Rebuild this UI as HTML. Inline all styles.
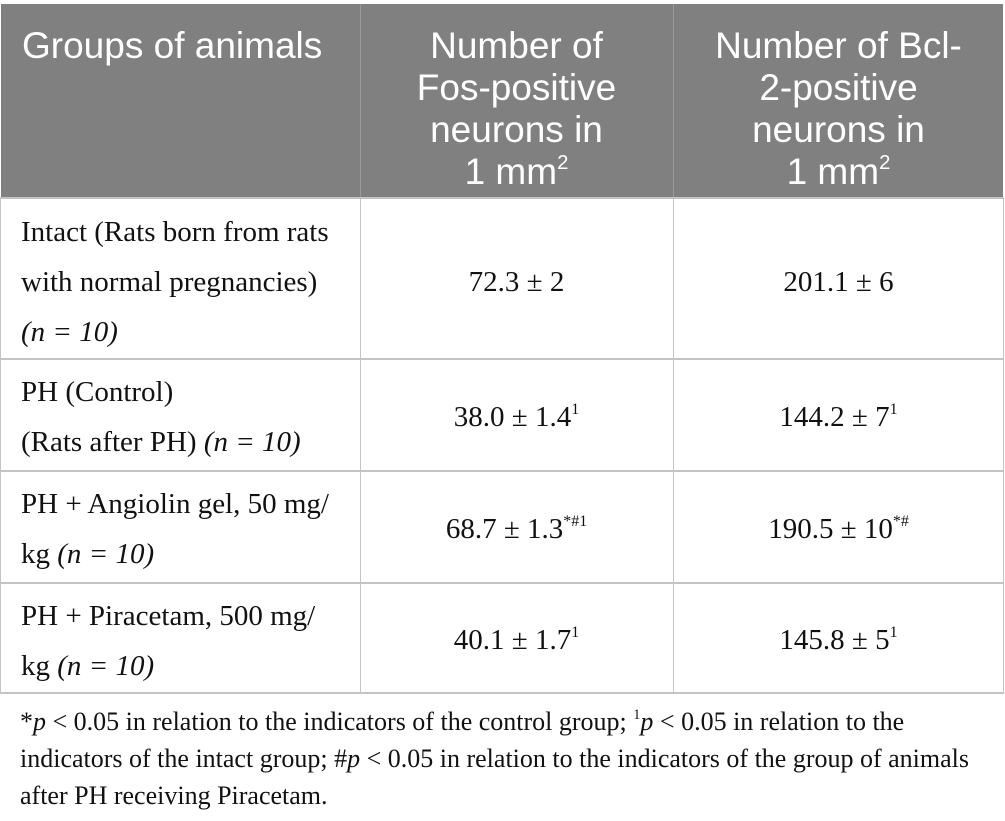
<!DOCTYPE html>
<html><head><meta charset="utf-8"><style>
body{margin:0;width:1005px;height:821px;background:#fff;position:relative;overflow:hidden}
.hd{position:absolute;top:4px;left:1px;width:1002px;height:194px;background:#808080}
.hc{position:absolute;color:#fff;font-family:"Liberation Sans",sans-serif;font-size:37px;line-height:42px;text-align:center;top:25px;white-space:nowrap}
.vl{position:absolute;width:1px;background:#c4c4c4}
.hl{position:absolute;height:2px;background:#c4c4c4;left:0;width:1004px}
.c{position:absolute;font-family:"Liberation Serif",serif;font-size:29px;line-height:50px;color:#111;white-space:nowrap}
.v{text-align:center}
sup{font-size:55%;vertical-align:baseline;line-height:0;position:relative;top:-0.75em}
.fn{position:absolute;left:20px;top:703px;font-family:"Liberation Serif",serif;font-size:26px;line-height:37px;color:#111;white-space:nowrap}
</style></head><body>
<div class="hd"></div>
<div class="vl" style="left:360px;top:4px;height:690px;background:#999"></div>
<div class="vl" style="left:673px;top:4px;height:690px;background:#999"></div>
<div class="vl" style="left:0;top:198px;height:496px"></div>
<div class="vl" style="left:1003px;top:198px;height:496px"></div>
<div class="vl" style="left:360px;top:198px;height:496px"></div>
<div class="vl" style="left:673px;top:198px;height:496px"></div>
<div class="hl" style="top:197px"></div>
<div class="hl" style="top:358px"></div>
<div class="hl" style="top:470px"></div>
<div class="hl" style="top:582px"></div>
<div class="hl" style="top:692px"></div>

<div class="hc" style="left:0;width:360px;text-align:left;padding-left:22px;box-sizing:border-box">Groups of animals</div>
<div class="hc" style="left:360px;width:313px">Number of<br>Fos-positive<br>neurons in<br>1 mm<sup>2</sup></div>
<div class="hc" style="left:673px;width:331px">Number of Bcl-<br>2-positive<br>neurons in<br>1 mm<sup>2</sup></div>

<div class="c" style="left:21px;top:207px">Intact (Rats born from rats<br>with normal pregnancies)<br><i>(n = 10)</i></div>
<div class="c v" style="left:360px;width:313px;top:257px">72.3 ± 2</div>
<div class="c v" style="left:673px;width:331px;top:257px">201.1 ± 6</div>

<div class="c" style="left:21px;top:367px">PH (Control)<br>(Rats after PH) <i>(n = 10)</i></div>
<div class="c v" style="left:360px;width:313px;top:392px">38.0 ± 1.4<sup>1</sup></div>
<div class="c v" style="left:673px;width:331px;top:392px">144.2 ± 7<sup>1</sup></div>

<div class="c" style="left:21px;top:479px">PH + Angiolin gel, 50 mg/<br>kg <i>(n = 10)</i></div>
<div class="c v" style="left:360px;width:313px;top:504px">68.7 ± 1.3<sup>*#1</sup></div>
<div class="c v" style="left:673px;width:331px;top:504px">190.5 ± 10<sup>*#</sup></div>

<div class="c" style="left:21px;top:591px">PH + Piracetam, 500 mg/<br>kg <i>(n = 10)</i></div>
<div class="c v" style="left:360px;width:313px;top:615px">40.1 ± 1.7<sup>1</sup></div>
<div class="c v" style="left:673px;width:331px;top:615px">145.8 ± 5<sup>1</sup></div>

<div class="fn">*<i>p</i> &lt; 0.05 in relation to the indicators of the control group; <sup>1</sup><i>p</i> &lt; 0.05 in relation to the<br>indicators of the intact group; #<i>p</i> &lt; 0.05 in relation to the indicators of the group of animals<br>after PH receiving Piracetam.</div>
</body></html>
